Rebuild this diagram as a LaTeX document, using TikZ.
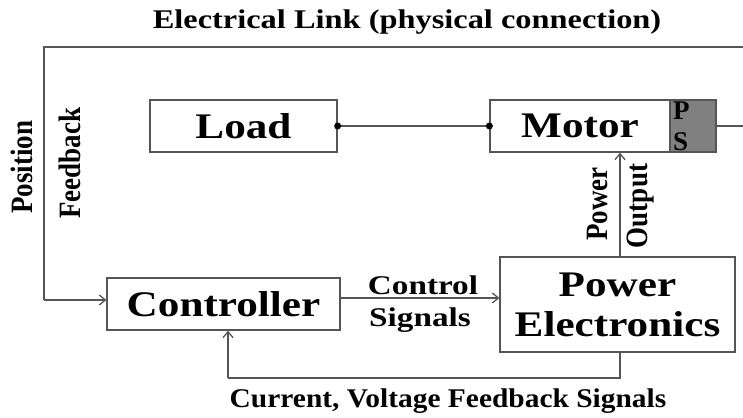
\documentclass[tikz,border=0pt]{standalone}
\usepackage{fontspec}
\usepackage{graphicx}
\setmainfont{Liberation Serif}
\usetikzlibrary{arrows.meta}
\definecolor{linegray}{HTML}{555555}
\definecolor{psgray}{HTML}{808080}
\newcommand{\wbig}[1]{\scalebox{1.2}[1]{#1}}
\newcommand{\wmid}[2][1.18]{\scalebox{#1}[1]{#2}}
\newcommand{\wrot}[1]{\scalebox{1}[1.15]{#1}}
\begin{document}
\begin{tikzpicture}[x=1pt,y=-1pt,
  blk/.style={draw=linegray, line width=1.3pt, fill=white, inner sep=0pt},
  big/.style={font=\bfseries\fontsize{36}{40}\selectfont},
  mid/.style={font=\bfseries\fontsize{27}{29}\selectfont},
  psl/.style={font=\bfseries\fontsize{27}{27}\selectfont, anchor=base west, inner sep=0pt},
  conn/.style={draw=linegray, line width=1.3pt},
  arr/.style={conn, -{Straight Barb[length=6pt,width=10pt]}}]
\useasboundingbox (0,0) rectangle (743,417);
% blocks
\node[blk, big, minimum width=187pt, minimum height=52pt] (load) at (243.5,126) {\wbig{Load}};
\node[blk, big, minimum width=180pt, minimum height=52pt] (motor) at (580,126) {\wbig{Motor}};
\node[blk, fill=psgray, minimum width=46pt, minimum height=52pt] (ps) at (693,126) {};
\node[psl] (psp) at (673,120) {P};
\node[psl] (pss) at (673,150) {S};
\node[blk, big, minimum width=235pt, minimum height=95pt, align=center] (pe) at (617.5,304.5) {\wbig{Power}\\\wbig{Electronics}};
\node[blk, big, minimum width=233pt, minimum height=52pt] (ctrl) at (223.5,304) {\wbig{Controller}};
% coordinates
\coordinate (tl) at (44,47);
\coordinate (tr) at (743,47);
\coordinate (psr) at (743,126);
\coordinate (bl) at (228,378);
\coordinate (br) at (620,378);
% connectors
\draw[conn] (tr) -- (tl) -- (44,300) coordinate (lc);
\draw[arr] (lc) -- (ctrl.west |- lc);
\draw[conn] (load.east) -- (motor.west);
\fill[black] (load.east) circle (3.5pt) (motor.west) circle (3.5pt);
\draw[conn] (ps.east) -- (psr);
\draw[arr] (ctrl.east |- 0,298) -- (pe.west |- 0,298);
\draw[arr] (pe.north -| br) -- (motor.south -| br);
\draw[conn] (pe.south -| br) -- (br) -- (bl);
\draw[arr] (bl) -- (ctrl.south -| bl);
% labels
\node[mid] (title) at (407,22) {\wmid[1.2]{Electrical Link (physical connection)}};
\node[mid, rotate=90] (pos) at (22,167) {\wrot{Position}};
\node[mid, rotate=90] (fb) at (70,163) {\wrot{Feedback}};
\node[mid] (cs1) at (423,285) {\wmid[1.23]{Control}};
\node[mid] (cs2) at (420,320) {\wmid[1.23]{Signals}};
\node[mid, rotate=90] (pw) at (597,204) {\wrot{Power}};
\node[mid, rotate=90] (out) at (641,206) {\wrot{Output}};
\node[mid] (cur) at (448,401) {\wmid[1.09]{Current, Voltage Feedback Signals}};
\end{tikzpicture}
\end{document}
